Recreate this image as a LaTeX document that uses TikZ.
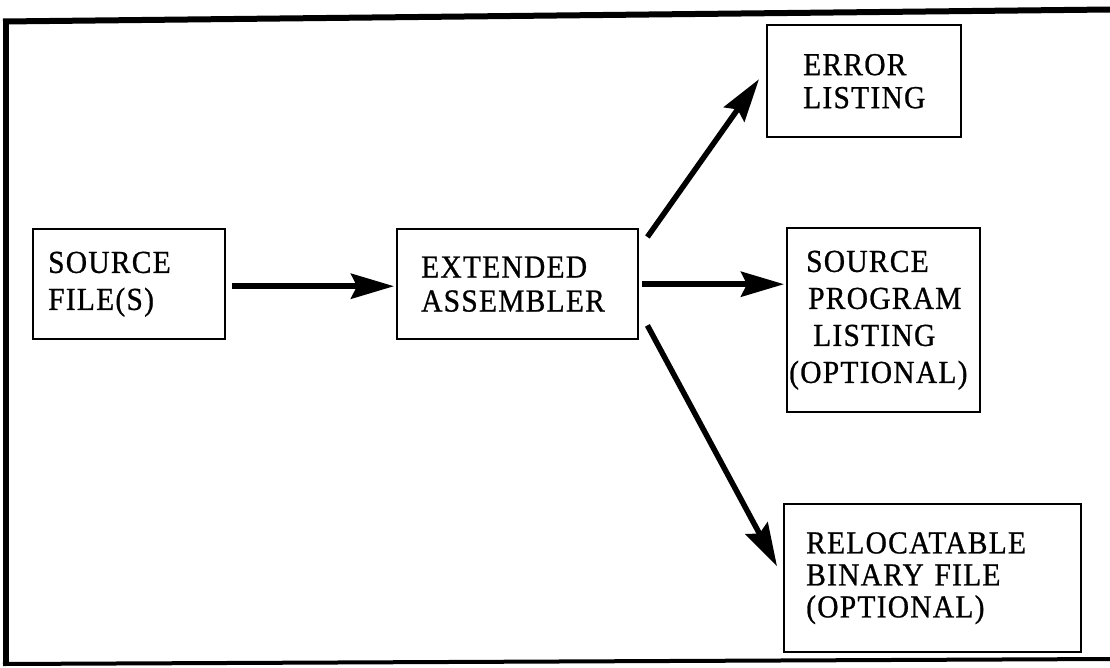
\documentclass[tikz,border=0pt]{standalone}
\usepackage{fontspec}
\setmainfont[LetterSpace=4, FakeStretch=0.92, FakeBold=0.8]{Liberation Serif}
\usetikzlibrary{arrows.meta,positioning}
\tikzset{
  box/.style={draw, line width=2.4pt, anchor=north west, align=left, inner ysep=0pt,
    font=\fontsize{32}{37}\selectfont},
  arr/.style={line width=5.5pt, -{Stealth[length=43pt,width=25pt,inset=6pt]}},
  frame/.style={line width=6pt}
}
\begin{document}
\begin{tikzpicture}[x=1pt,y=-1pt]
\useasboundingbox (0,0) rectangle (1110,667);
% frame
\draw[frame] (6,664) -- (6,20.5);
\draw[frame] (3,21.5) -- (1110,9.5);
\draw[line width=4pt] (3,664) -- (1110,659);
% boxes (width W, height H, left pad p => text width W-2p)
\node[box, inner xsep=15pt, text width=162pt, minimum height=110pt] (src) at (32,228) {SOURCE\\FILE(S)\\[-2pt]};
\node[box, inner xsep=24pt, text width=193pt, minimum height=110pt] (asm) at (396,228) {EXTENDED\\[-3pt]ASSEMBLER\\[8pt]};
\node[box, inner xsep=36pt, text width=122pt, minimum height=112pt] (err) at (766,24) {ERROR\\[-4pt]LISTING\\[6pt]};
\node[box, inner xsep=2pt, text width=189pt, minimum height=184pt] (spl) at (786,227) {\hspace{17pt}SOURCE\\\hspace{19pt}PROGRAM\\\hspace{24pt}LISTING\\(OPTIONAL)\\[4pt]};
\node[box, inner xsep=22pt, text width=253pt, minimum height=148pt] (rel) at (783,503) {RELOCATABLE\\[-5pt]BINARY FILE\\[-5pt](OPTIONAL)};
% arrows
\draw[arr] ([xshift=6pt,yshift=-2pt]src.east) -- ([xshift=-2pt,yshift=-2pt]asm.west);
\draw[arr] ([shift={(8,9)}]asm.north east) -- ([shift={(-7,-2)}]err.west);
\draw[arr] ([xshift=3pt]asm.east) -- ([xshift=-2pt]asm.east -| spl.west);
\draw[arr] ([shift={(8,-15)}]asm.south east) -- ([shift={(-6,-12)}]rel.west);
\end{tikzpicture}
\end{document}
